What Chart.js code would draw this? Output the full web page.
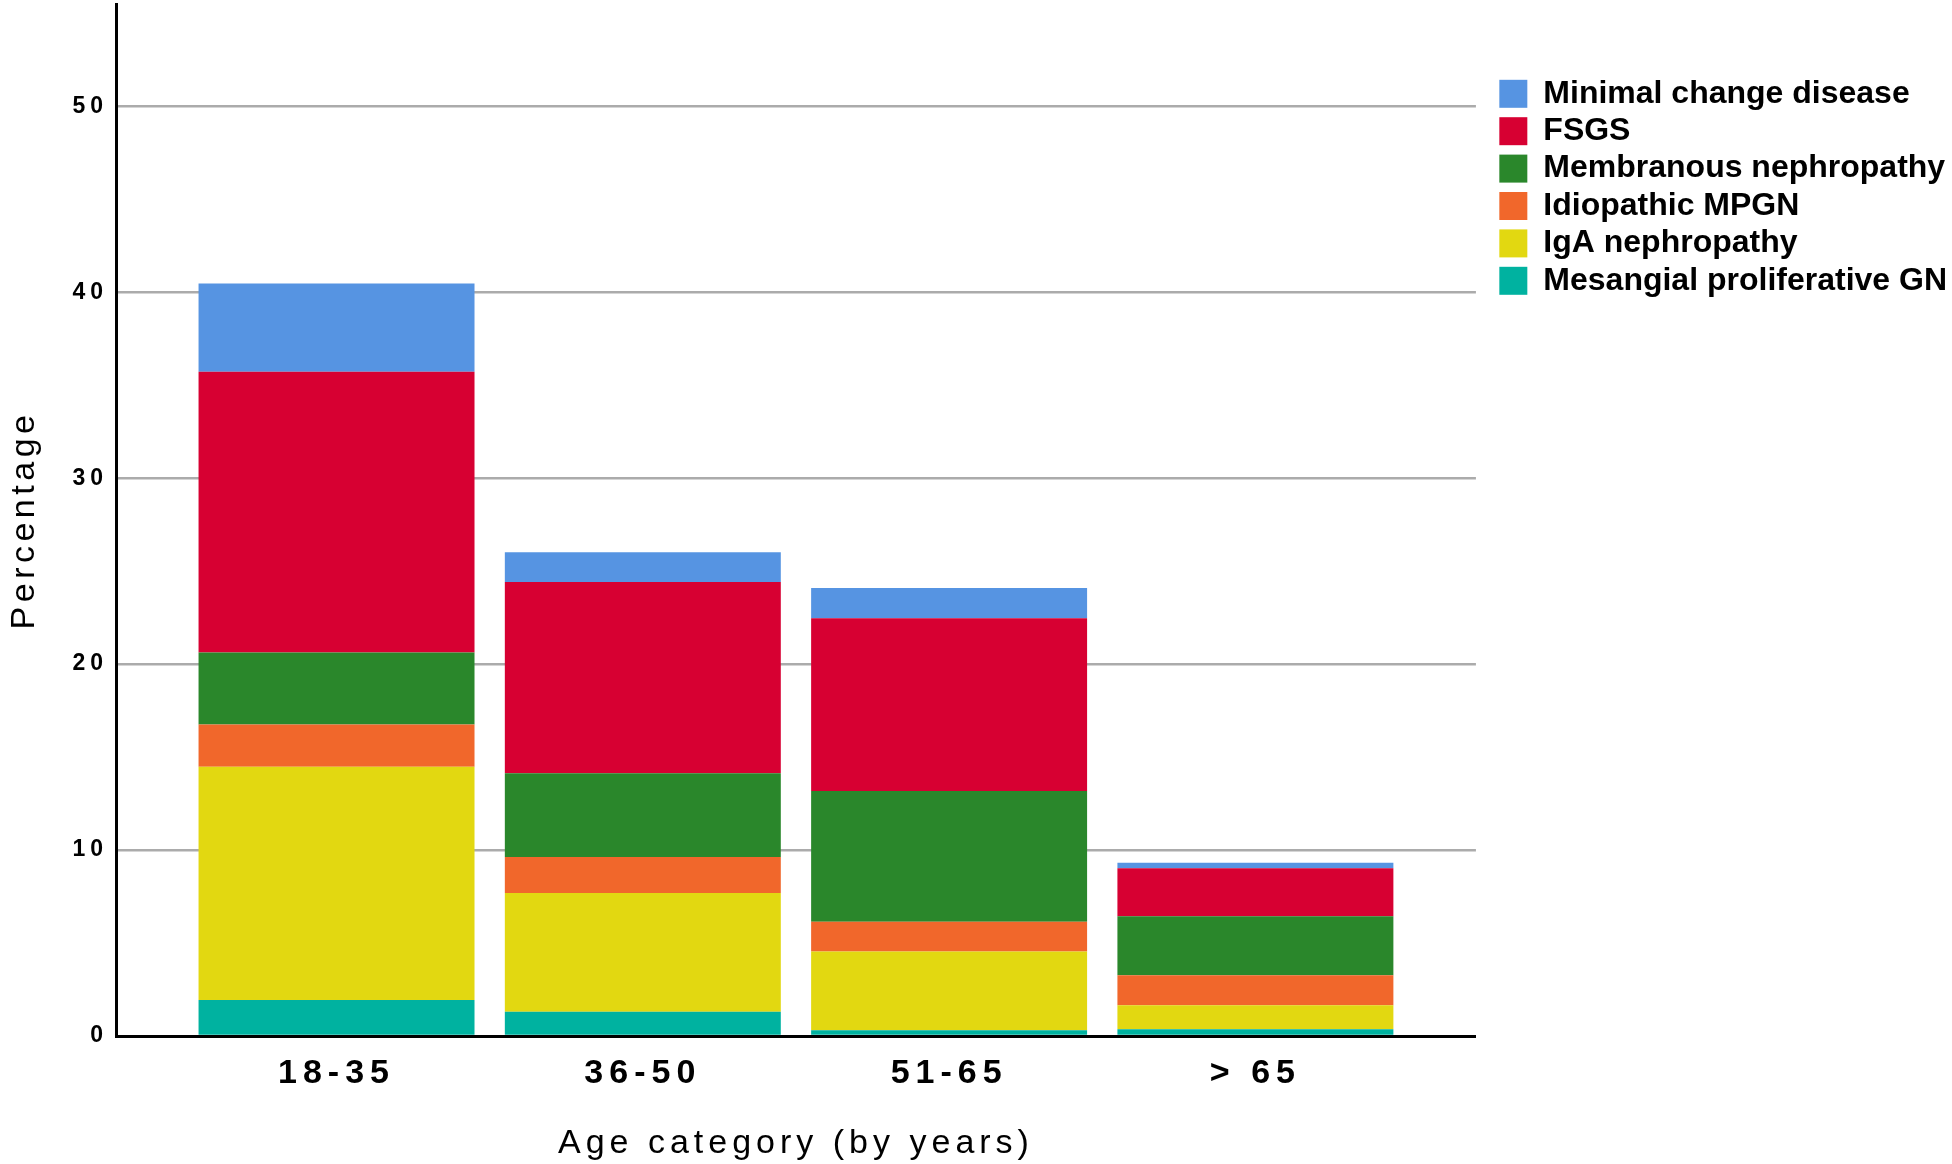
<!DOCTYPE html>
<html>
<head>
<meta charset="utf-8">
<script src="https://cdn.jsdelivr.net/npm/chart.js@4.4.1/dist/chart.umd.min.js"></script>
<style>
  html, body { margin: 0; padding: 0; background: #fff; }
  #chart { display: block; }
</style>
</head>
<body>
<canvas id="chart" width="1952" height="1164"></canvas>
<script>
// age groups on the x axis
const ageGroups = ['18-35', '36-50', '51-65', '> 65'];

// percentages, stacked bottom to top
const mesangialGN = [1.93, 1.30, 0.31, 0.36];
const igaNephropathy = [12.55, 6.39, 4.23, 1.30];
const idiopathicMPGN = [2.27, 1.94, 1.61, 1.61];
const membranous = [3.87, 4.50, 7.02, 3.17];
const fsgs = [15.10, 10.28, 9.29, 2.58];
const minimalChange = [4.75, 1.61, 1.63, 0.30];

const yTicks = [0, 10, 20, 30, 40, 50];

// the old SPSS style labels are spaced out a bit
const LETTER_SPACING = {
    x: { ticks: '6px', title: '5px' },
    y: { ticks: '5px', title: '4.5px' }
};

class SpacedLinearScale extends Chart.LinearScale {
    drawLabels(chartArea) {
        this.ctx.save();
        this.ctx.letterSpacing = LETTER_SPACING[this.id].ticks;
        super.drawLabels(chartArea);
        this.ctx.restore();
    }
    drawTitle() {
        this.ctx.save();
        this.ctx.letterSpacing = LETTER_SPACING[this.id].title;
        super.drawTitle();
        this.ctx.restore();
    }
}
SpacedLinearScale.id = 'spacedLinear';
SpacedLinearScale.defaults = Chart.LinearScale.defaults;
Chart.register(SpacedLinearScale);

// push the legend a little away from the plot
const legendNudge = {
    id: 'legendNudge',
    afterLayout(chart) {
        if (chart.legend) {
            chart.legend.left += 18;
            chart.legend.right += 18;
        }
    }
};

Chart.defaults.font.family = "'Liberation Sans', Arial, Helvetica, sans-serif";
Chart.defaults.color = '#000';

const ctx = document.getElementById('chart').getContext('2d');
new Chart(ctx, {
    type: 'bar',
    data: {
        labels: ageGroups.map((_, i) => i),
        datasets: [
            { label: 'Mesangial proliferative GN', data: mesangialGN, backgroundColor: '#00B2A0' },
            { label: 'IgA nephropathy', data: igaNephropathy, backgroundColor: '#E2D811' },
            { label: 'Idiopathic MPGN', data: idiopathicMPGN, backgroundColor: '#F1672B' },
            { label: 'Membranous nephropathy', data: membranous, backgroundColor: '#2A872B' },
            { label: 'FSGS', data: fsgs, backgroundColor: '#D70032' },
            { label: 'Minimal change disease', data: minimalChange, backgroundColor: '#5694E2' }
        ]
    },
    options: {
        responsive: false,
        animation: false,
        events: [],
        borderWidth: 0,
        categoryPercentage: 1,
        barPercentage: 0.901,
        layout: { padding: { top: 0, right: 13, bottom: 0, left: 0 } },
        plugins: {
            tooltip: { enabled: false },
            legend: {
                position: 'right',
                align: 'start',
                reverse: true,
                title: { display: true, text: '', padding: { top: 58, bottom: 0 } },
                labels: {
                    font: { size: 32, weight: 'bold' },
                    color: '#000',
                    boxWidth: 28,
                    boxHeight: 28,
                    padding: 5.4
                }
            }
        },
        scales: {
            x: {
                type: 'spacedLinear',
                stacked: true,
                offset: false,
                min: -0.72,
                max: 3.72,
                afterBuildTicks: (scale) => { scale.ticks = ageGroups.map((_, i) => ({ value: i })); },
                afterFit: (scale) => { scale.height = 128; },
                grid: { display: false, offset: false, drawTicks: false },
                border: { display: true, color: '#000', width: 3 },
                ticks: {
                    callback: (value) => ageGroups[value],
                    font: { size: 34, weight: 'bold' },
                    color: '#000',
                    padding: 17,
                    maxRotation: 0,
                    autoSkip: false
                },
                title: {
                    display: true,
                    text: 'Age category (by years)',
                    font: { size: 34 },
                    color: '#000',
                    padding: { top: 0, bottom: 0 }
                }
            },
            y: {
                type: 'spacedLinear',
                stacked: true,
                min: 0,
                max: 55.5,
                afterBuildTicks: (scale) => { scale.ticks = yTicks.map(v => ({ value: v })); },
                afterFit: (scale) => {
                    scale.width = 116;
                    scale.paddingTop = 4;
                },
                grid: { color: '#ababab', lineWidth: 2.5, drawTicks: false },
                border: { display: true, color: '#000', width: 3 },
                ticks: {
                    font: { size: 23, weight: 'bold' },
                    color: '#000',
                    padding: 8
                },
                title: {
                    display: true,
                    text: 'Percentage',
                    font: { size: 34 },
                    color: '#000',
                    padding: { top: 4, bottom: 0 }
                }
            }
        }
    },
    plugins: [legendNudge]
});
</script>
</body>
</html>
